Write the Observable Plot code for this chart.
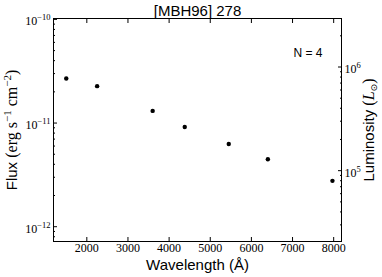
<!DOCTYPE html>
<html><head><meta charset="utf-8">
<script src="https://cdn.jsdelivr.net/npm/d3@7"></script>
<script src="https://cdn.jsdelivr.net/npm/@observablehq/plot@0.6"></script>
<style>body{margin:0;background:#fff} svg{display:block}</style>
</head><body><div id="chart"></div>
<script>
const wavelengths = [1500, 2250, 3600, 4380, 5450, 6400, 7970];
const fluxes = [2.69e-11, 2.27e-11, 1.31e-11, 9.15e-12, 6.28e-12, 4.48e-12, 2.77e-12];
const xTicks = [2000, 3000, 4000, 5000, 6000, 7000, 8000];
const fluxMajor = [1e-12, 1e-11, 1e-10];
const lumMajor = [1e5, 1e6];
const lumPerFlux = 2.88e16;
const title = "[MBH96] 278";
const annotation = "N = 4";
const xLabel = "Wavelength (Å)";

const exp10 = v => Math.round(Math.log10(v));

const yDomain = [7.2e-13, 1.02e-10];
const fluxMinor = [];
for (let e = -13; e <= -11; e++) for (let m = 2; m <= 9; m++) {
  const v = m * 10 ** e; if (v > yDomain[0] && v < yDomain[1]) fluxMinor.push(v);
}
const lumMinor = [];
for (let e = 4; e <= 6; e++) for (let m = 2; m <= 9; m++) {
  const v = m * 10 ** e / lumPerFlux; if (v > yDomain[0] && v < yDomain[1]) lumMinor.push(v);
}
const lumMajorFlux = lumMajor.map(l => l / lumPerFlux);

const data = wavelengths.map((w, i) => ({w, f: fluxes[i]}));
const serif = "'Liberation Serif', 'DejaVu Serif', serif";
const sans = "'Liberation Sans', Arial, sans-serif";

const chart = Plot.plot({
  width: 382, height: 277,
  marginLeft: 53, marginRight: 41, marginTop: 18, marginBottom: 36,
  style: {background: "#fff", color: "#000"},
  x: {domain: [1190, 8190], axis: null},
  y: {type: "log", domain: yDomain, axis: null},
  marks: [
    Plot.frame({stroke: "#000", strokeWidth: 1}),
    Plot.axisX(xTicks, {anchor: "bottom", tickSize: -4, label: null, tickFormat: () => ""}),
    Plot.axisX(xTicks, {anchor: "top", tickSize: -4, label: null, tickFormat: () => ""}),
    Plot.axisY(fluxMajor, {anchor: "left", tickSize: -4, label: null, tickFormat: () => ""}),
    Plot.axisY(fluxMinor, {anchor: "left", tickSize: -2, label: null, tickFormat: () => ""}),
    Plot.axisY(lumMajorFlux, {anchor: "right", tickSize: -4, label: null, tickFormat: () => ""}),
    Plot.axisY(lumMinor, {anchor: "right", tickSize: -2, label: null, tickFormat: () => ""}),
    Plot.text(xTicks, {x: d => d, frameAnchor: "bottom", lineAnchor: "top", dy: 2, text: d => "SER" + d, fontSize: 12, fill: "#000"}),
    Plot.text(fluxMajor, {y: d => d, frameAnchor: "left", textAnchor: "end", lineAnchor: "middle", dx: -3, dy: 2, text: d => "POW" + exp10(d), fontSize: 12, fill: "#000"}),
    Plot.text(lumMajorFlux, {y: d => d, frameAnchor: "right", textAnchor: "start", lineAnchor: "middle", dx: 3, dy: 2, text: d => "POW" + exp10(d * lumPerFlux), fontSize: 12, fill: "#000"}),
    Plot.dot(data, {x: "w", y: "f", r: 2.2, fill: "#000", stroke: null}),
    Plot.text([title], {frameAnchor: "top", lineAnchor: "middle", dy: -7.5, fontSize: 15, text: d => "SAN" + d, fill: "#000"}),
    Plot.text([annotation], {frameAnchor: "top-right", textAnchor: "end", lineAnchor: "middle", dx: -19, dy: 34.5, fontSize: 12, text: d => "SAN" + d, fill: "#000"}),
    Plot.text([xLabel], {frameAnchor: "bottom", lineAnchor: "middle", dy: 24, fontSize: 15, text: d => "SAN" + d, fill: "#000"}),
    Plot.text(["FLUXLABEL"], {frameAnchor: "left", textAnchor: "middle", lineAnchor: "middle", dx: -41.5, rotate: -90, fontSize: 15, fill: "#000"}),
    Plot.text(["LUMLABEL"], {frameAnchor: "right", textAnchor: "middle", lineAnchor: "middle", dx: 28, rotate: -90, fontSize: 15, fill: "#000"})
  ]
});
document.getElementById("chart").appendChild(chart);

const fam = (sel, f) => sel.style("font-family", f);
d3.select(chart).selectAll("text").each(function() {
  const t = d3.select(this);
  const s = t.text();
  const add = (txt, f, o = {}) => {
    const ts = t.append("tspan").text(txt).style("font-family", f);
    for (const k in o) {
      if (k === "size") ts.style("font-size", o[k] + "px");
      else if (k === "italic") ts.style("font-style", "italic");
      else ts.attr(k, o[k]);
    }
    return ts;
  };
  if (s.startsWith("POW")) {
    const e = s.slice(3).replace("-", "−");
    t.text("");
    fam(t, serif);
    add("10", serif);
    add(e, serif, {size: 8.5, dy: -5});
  } else if (s.startsWith("SER")) {
    t.text(s.slice(3));
    fam(t, serif);
  } else if (s.startsWith("SAN")) {
    t.text(s.slice(3));
    fam(t, sans);
  } else if (s === "FLUXLABEL") {
    t.text("");
    fam(t, sans);
    add("Flux ", sans);
    add("(erg s", serif, {size: 16});
    add("−1", serif, {size: 11, dy: -6});
    add(" cm", serif, {size: 16, dy: 6});
    add("−2", serif, {size: 11, dy: -6});
    add(")", serif, {size: 16, dy: 6});
  } else if (s === "LUMLABEL") {
    t.text("");
    fam(t, sans);
    add("Luminosity ", sans);
    add("(", serif, {size: 16});
    add("L", serif, {size: 16, italic: true});
    add("⊙", "'DejaVu Sans'", {size: 9, dy: 3});
    add(")", serif, {size: 16, dy: -3});
  }
});
</script>
</body></html>
